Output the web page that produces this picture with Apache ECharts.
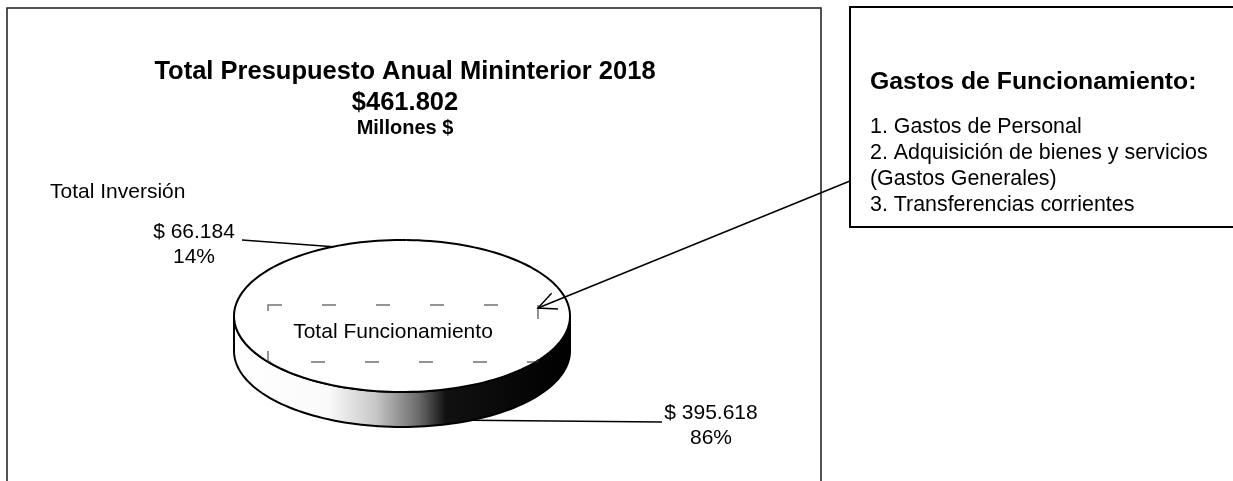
<!DOCTYPE html>
<html>
<head>
<meta charset="utf-8">
<script src="https://cdn.jsdelivr.net/npm/echarts@6/dist/echarts.min.js"></script>
<style>
html,body{margin:0;padding:0;background:#fff;}
#chart{width:1233px;height:481px;}
</style>
</head>
<body>
<div id="chart"></div>
<script>
// ---- data ----
var categories = ['Total Inversión', 'Total Funcionamiento'];
var values = [66184, 395618];
var titleText = 'Total Presupuesto Anual Mininterior 2018';
var unitText = 'Millones $';
var noteTitle = 'Gastos de Funcionamiento:';
var noteItems = ['1. Gastos de Personal', '2. Adquisición de bienes y servicios', '(Gastos Generales)', '3. Transferencias corrientes'];

// ---- helpers ----
function fmt(n) { return String(n).replace(/\B(?=(\d{3})+(?!\d))/g, '.'); }
var total = values.reduce(function (a, b) { return a + b; }, 0);

// pie geometry (pixels)
var CX = 402, CY = 316, RX = 168, RY = 76, DEPTH = 35, START = 140;
var nameLayout = [
  { x: 50, y: 192, align: 'left' },
  { x: 393, y: 332, align: 'center' }
];
var valueLayout = [
  { x: 194, y: 245, lineEnd: [242, 240] },
  { x: 711, y: 426, lineEnd: [662, 422] }
];
var FONT = '"Liberation Sans", Arial, sans-serif';

function pt(deg, dy) {
  var r = deg * Math.PI / 180;
  return [CX + RX * Math.cos(r), CY - RY * Math.sin(r) + (dy || 0)];
}
function arc(a0, a1, dy) {
  var pts = [], n = Math.max(2, Math.ceil(Math.abs(a0 - a1) / 2));
  for (var k = 0; k <= n; k++) pts.push(pt(a0 + (a1 - a0) * k / n, dy));
  return pts;
}

var sideGrad = new echarts.graphic.LinearGradient(CX - RX, 0, CX + RX, 0, [
  { offset: 0, color: '#ffffff' },
  { offset: 0.28, color: '#fafafa' },
  { offset: 0.42, color: '#c8c8c8' },
  { offset: 0.55, color: '#6a6a6a' },
  { offset: 0.63, color: '#111111' },
  { offset: 1, color: '#000000' }
], true);

function renderItem(params, api) {
  var i = params.dataIndex;
  var before = 0;
  for (var j = 0; j < i; j++) before += values[j];
  var v = api.value(0);
  var a0 = START - before / total * 360;
  var a1 = a0 - v / total * 360;
  var children = [];
  // side faces (front half only)
  for (var k = -1; k <= 1; k++) {
    var lo = Math.max(a1, -180 + 360 * k), hi = Math.min(a0, 360 * k);
    if (lo < hi) {
      var top = arc(hi, lo, 0);
      var bot = arc(lo, hi, DEPTH);
      children.push({ type: 'polygon', z2: 1, shape: { points: top.concat(bot) },
        style: { fill: sideGrad, stroke: '#000', lineWidth: 2 } });
    }
  }
  // top face
  var topArc = arc(a0, a1, 0);
  children.push({ type: 'polygon', z2: 2, shape: { points: [[CX, CY]].concat(topArc) },
    style: { fill: '#ffffff', stroke: null } });
  children.push({ type: 'polyline', z2: 3, shape: { points: topArc },
    style: { fill: null, stroke: '#000', lineWidth: 2 } });
  // leader line + value label
  var mid = (a0 + a1) / 2;
  var s = Math.sin(mid * Math.PI / 180);
  var edge = pt(mid, s < 0 ? DEPTH : 0);
  var vl = valueLayout[i];
  children.push({ type: 'polyline', z2: 4, shape: { points: [edge, vl.lineEnd] },
    style: { fill: null, stroke: '#000', lineWidth: 1.5 } });
  children.push({ type: 'text', z2: 5, x: vl.x, y: vl.y,
    style: { text: '$ ' + fmt(v) + '\n' + Math.round(v / total * 100) + '%',
      font: '21px ' + FONT, fill: '#000', align: 'center', verticalAlign: 'middle', lineHeight: 25 } });
  // category name
  var nl = nameLayout[i];
  children.push({ type: 'text', z2: 5, x: nl.x, y: nl.y,
    style: { text: categories[i], font: '21px ' + FONT, fill: '#000', align: nl.align, verticalAlign: 'middle' } });
  return { type: 'group', children: children };
}

// arrow geometry
var arrowFrom = [850, 181], arrowTip = [538, 308];
var dx = arrowFrom[0] - arrowTip[0], dy = arrowFrom[1] - arrowTip[1];
var L = Math.sqrt(dx * dx + dy * dy); dx /= L; dy /= L;
function rot(t) {
  var c = Math.cos(t), s = Math.sin(t);
  return [arrowTip[0] + 20 * (dx * c - dy * s), arrowTip[1] + 20 * (dx * s + dy * c)];
}
var ang = 25 * Math.PI / 180;

var graphics = [
  { type: 'rect', z: 1, shape: { x: 7, y: 8, width: 814, height: 520 },
    style: { fill: '#fff', stroke: '#1a1a1a', lineWidth: 1.5 } },
  { type: 'text', z: 5, x: 405, y: 72, style: { text: titleText, font: 'bold 25.5px ' + FONT, fill: '#000', align: 'center', verticalAlign: 'middle' } },
  { type: 'text', z: 5, x: 405, y: 103, style: { text: '$' + fmt(total), font: 'bold 25.5px ' + FONT, fill: '#000', align: 'center', verticalAlign: 'middle' } },
  { type: 'text', z: 5, x: 405, y: 128, style: { text: unitText, font: 'bold 20px ' + FONT, fill: '#000', align: 'center', verticalAlign: 'middle' } },
  { type: 'rect', z: 100, shape: { x: 268, y: 305, width: 270, height: 57 },
    style: { fill: null, stroke: '#333', lineWidth: 1.5, lineDash: [14, 40], opacity: 0.7 } },
  { type: 'rect', z: 1, shape: { x: 850, y: 7, width: 420, height: 220 },
    style: { fill: '#fff', stroke: '#000', lineWidth: 2 } },
  { type: 'text', z: 5, x: 870, y: 82, style: { text: noteTitle, font: 'bold 24.8px ' + FONT, fill: '#000', align: 'left', verticalAlign: 'middle' } },
  { type: 'text', z: 5, x: 870, y: 166, style: { text: noteItems.join('\n'), font: '21.4px ' + FONT, fill: '#000', align: 'left', verticalAlign: 'middle', lineHeight: 26 } },
  { type: 'line', z: 100, shape: { x1: arrowFrom[0], y1: arrowFrom[1], x2: arrowTip[0], y2: arrowTip[1] },
    style: { stroke: '#000', lineWidth: 1.5 } },
  { type: 'polyline', z: 100, shape: { points: [rot(ang), arrowTip, rot(-ang)] },
    style: { fill: null, stroke: '#000', lineWidth: 1.5 } }
];

var chart = echarts.init(document.getElementById('chart'), null, { renderer: 'canvas' });
chart.setOption({
  backgroundColor: '#fff',
  animation: false,
  graphic: { elements: graphics },
  series: [{
    type: 'custom',
    coordinateSystem: 'none',
    z: 10,
    renderItem: renderItem,
    data: values.map(function (v, i) { return { name: categories[i], value: [v] }; })
  }]
});
</script>
</body>
</html>
